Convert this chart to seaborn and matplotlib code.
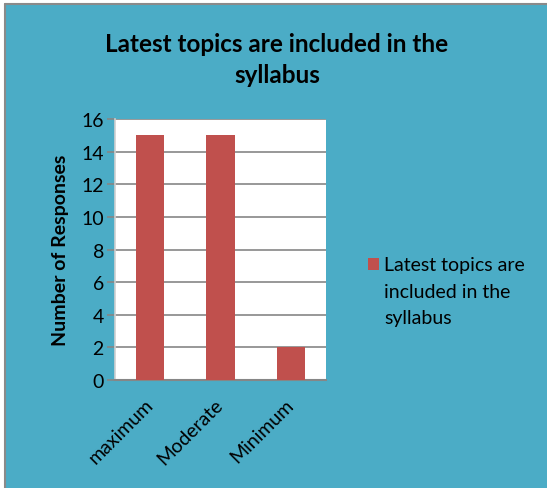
import matplotlib
matplotlib.use("Agg")
import matplotlib.pyplot as plt
import matplotlib.transforms as mtransforms
import seaborn as sns
import pandas as pd
from matplotlib.patches import Rectangle, Patch

categories = ["maximum", "Moderate", "Minimum"]
values = [15, 15, 2]
series_lines = ["Latest topics are", "included in the", "syllabus"]
title = "Latest topics are included in the\nsyllabus"
ylabel = "Number of Responses"
yticks = [0, 2, 4, 6, 8, 10, 12, 14, 16]

sns.set_theme(style="white")
plt.rcParams["font.family"] = ["Lato", "DejaVu Sans"]

BG = "#4BACC6"
BAR = "#C0504D"
GRID = "#868686"

fig = plt.figure(figsize=(5.47, 4.89), dpi=100, facecolor="white")
fig.patches.append(Rectangle((5/547, 0), 1 - 5/547, 1 - 5/489, transform=fig.transFigure,
                             facecolor=BG, edgecolor="none", zorder=-10))
fig.add_artist(plt.Line2D([5/547, 5/547], [0, 1 - 5/489], transform=fig.transFigure, color="#8a8a8a", lw=1.5))
fig.add_artist(plt.Line2D([5/547, 1], [1 - 5/489, 1 - 5/489], transform=fig.transFigure, color="#8a8a8a", lw=1.5))

ax = fig.add_axes([115/547, 1 - 381/489, (326 - 115)/547, (381 - 120)/489])
ax.set_facecolor("white")

df = pd.DataFrame({"category": categories, "value": values})
sns.barplot(data=df, x="category", y="value", color=BAR, width=0.4, ax=ax,
            saturation=1, edgecolor="none", zorder=3)

ax.set_ylim(0, 16)
ax.set_yticks(yticks)
ax.set_xlim(-0.5, 2.5)
ax.yaxis.grid(True, color=GRID, lw=1.2, zorder=0)
ax.set_axisbelow(True)
for s in ["top", "right"]:
    ax.spines[s].set_visible(False)
ax.spines["left"].set_color("#d0d0d0")
ax.spines["left"].set_linewidth(1.2)
ax.spines["bottom"].set_color(GRID)
ax.spines["bottom"].set_linewidth(1.5)

ax.tick_params(axis="y", left=True, length=6, width=1.2, color=GRID, labelsize=14, pad=2, labelcolor="black")
ax.tick_params(axis="x", bottom=False, labelsize=14, pad=5, labelcolor="black")
shift = mtransforms.ScaledTranslation(-6/100, 0, fig.dpi_scale_trans)
for lab in ax.get_xticklabels():
    lab.set_rotation(45)
    lab.set_ha("right")
    lab.set_rotation_mode("anchor")
    lab.set_transform(lab.get_transform() + shift)

ax.set_xlabel("")
ax.set_ylabel(ylabel, fontsize=14, fontweight="bold", color="black", labelpad=9)

fig.text(277/547, 1 - 60/489, title, ha="center", va="center", fontsize=17.5,
         fontweight="bold", color="black", linespacing=1.45)

handles = [Patch(facecolor=BAR, edgecolor="none")]
leg = fig.legend(handles, [series_lines[0]], loc="center left",
                 bbox_to_anchor=(368/547, 1 - 266/489), frameon=False, fontsize=14,
                 handlelength=0.57, handleheight=0.57, handletextpad=0.27,
                 borderpad=0, borderaxespad=0, labelcolor="black")
for i, line in enumerate(series_lines[1:], start=1):
    fig.text(384/547, 1 - (266 + 26.5 * i)/489, line, ha="left", va="center",
             fontsize=14, color="black")

fig.savefig("out.png", dpi=100, facecolor=fig.get_facecolor())
